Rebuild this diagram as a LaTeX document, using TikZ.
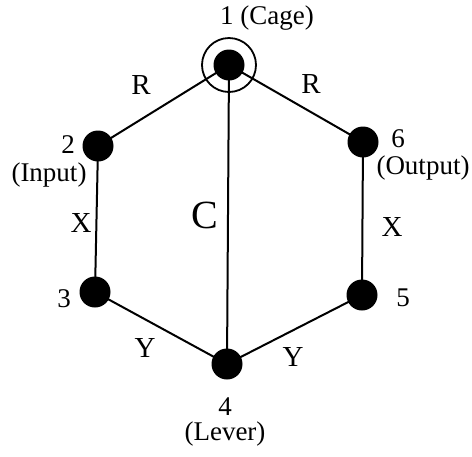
\documentclass[tikz,border=0pt]{standalone}
\usepackage{fontspec}
\setmainfont{Liberation Serif}
\begin{document}
\begin{tikzpicture}[x=1pt,y=-1pt,
  dot/.style={circle,fill=black,inner sep=0pt,minimum size=31pt},
  edge/.style={line width=2pt},
  lab/.style={inner sep=0pt,font=\fontsize{27}{25}\selectfont},
  elab/.style={inner sep=0pt,font=\fontsize{29}{30}\selectfont},
  clab/.style={inner sep=0pt,font=\fontsize{40}{42}\selectfont}]
\useasboundingbox (0,0) rectangle (472,456);
\coordinate (p1) at (229,65);
\coordinate (p2) at (98,146);
\coordinate (p3) at (95,292);
\coordinate (p4) at (227,364);
\coordinate (p5) at (362,295);
\coordinate (p6) at (363,142);
\draw[edge] (p1) -- (p2) -- (p3) -- (p4) -- (p5) -- (p6) -- (p1);
\draw[edge] (p1) -- (p4);
\node[dot] (n1) at (p1) {};
\node[dot] (n2) at (p2) {};
\node[dot] (n3) at (p3) {};
\node[dot] (n4) at (p4) {};
\node[dot] (n5) at (p5) {};
\node[dot] (n6) at (p6) {};
\node[draw,circle,line width=1.8pt,inner sep=0pt,minimum size=54pt] (ring) at (p1) {};
\node[lab] (t1) at (267,18) {1 (Cage)};
\node[lab] (t2) at (68,145) {2};
\node[lab] (t2b) at (49,175) {(Input)};
\node[lab] (t6) at (398,139) {6};
\node[lab] (t6b) at (423,168) {(Output)};
\node[lab] (t3) at (64,299) {3};
\node[lab] (t5) at (403,298) {5};
\node[lab,align=center] (t4) at (225,422) {4\\(Lever)};
\node[elab] (r1) at (141,85) {R};
\node[elab] (r2) at (311,84) {R};
\node[elab] (x1) at (81,223) {X};
\node[elab] (x2) at (392,227) {X};
\node[elab] (y1) at (145,348) {Y};
\node[elab] (y2) at (293,357) {Y};
\node[clab] (c) at (205,215) {C};
\end{tikzpicture}
\end{document}
